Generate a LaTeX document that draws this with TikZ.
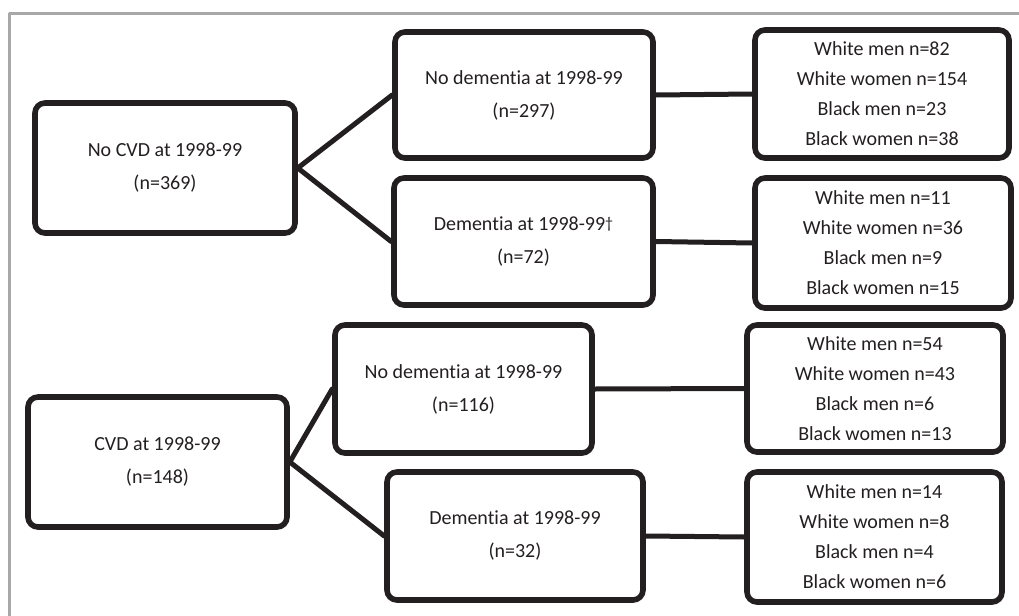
\documentclass[tikz,border=0pt]{standalone}
\usepackage{fontspec}
\setmainfont{Carlito}[RawFeature={-liga;-calt;-clig;-dlig}]
\definecolor{inkdark}{HTML}{231F20}
\definecolor{framegray}{HTML}{A8A8A8}
\tikzset{
  stagebox/.style={draw=inkdark,line width=2.8pt,rounded corners=5pt,align=center,text=inkdark,
    inner sep=0pt,font=\fontsize{10}{16.5}\selectfont},
  groupbox/.style={stagebox,font=\fontsize{10}{15}\selectfont},
  link/.style={draw=inkdark,line width=2.5pt}
}
\newcommand{\daggermark}{\raisebox{0.8pt}{\fontsize{8}{8}\selectfont\char"2020}}

\begin{document}
\begin{tikzpicture}[line cap=round,line join=round,x=0.5pt,y=-0.5pt]
				\useasboundingbox (0,0) rectangle (1019,616);
				\draw [line width=1.5pt,color=framegray,line cap=butt] (9,616) -- (9,13) -- (1019,13);
				% baseline status
				\node [stagebox,minimum width=130pt,minimum height=65pt] (nocvd) at (165,168) {No CVD at 1998-99\\(n=369)};
				\node [stagebox,minimum width=129.5pt,minimum height=65pt] (cvd) at (157.5,462) {CVD at 1998-99\\(n=148)};
				% dementia status
				\node [stagebox,minimum width=129pt,minimum height=63pt] (nocvdnodem) at (524,95) {No dementia at 1998-99\\(n=297)};
				\node [stagebox,minimum width=129.5pt,minimum height=63.5pt] (nocvddem) at (523.5,241.5) {Dementia at 1998-99\daggermark\\(n=72)};
				\node [stagebox,minimum width=128.5pt,minimum height=64pt] (cvdnodem) at (463.5,389) {No dementia at 1998-99\\(n=116)};
				\node [stagebox,minimum width=128pt,minimum height=64pt] (cvddem) at (515,536) {Dementia at 1998-99\\(n=32)};
				% race and sex
				\node [groupbox,minimum width=127pt,minimum height=64pt] (grpa) at (882,94) {White men n=82\\White women n=154\\Black men n=23\\Black women n=38};
				\node [groupbox,minimum width=128pt,minimum height=65pt] (grpb) at (883,243) {White men n=11\\White women n=36\\Black men n=9\\Black women n=15};
				\node [groupbox,minimum width=128pt,minimum height=63.5pt] (grpc) at (875,388.5) {White men n=54\\White women n=43\\Black men n=6\\Black women n=13};
				\node [groupbox,minimum width=127.5pt,minimum height=65pt] (grpd) at (874.5,537) {White men n=14\\White women n=8\\Black men n=4\\Black women n=6};
				% links
				\draw [link] (nocvd.east) -- (nocvdnodem.west);
				\draw [link] (nocvd.east) -- (nocvddem.west);
				\draw [link] (cvd.east) -- (cvdnodem.west);
				\draw [link] (cvd.east) -- (cvddem.west);
				\draw [link] (nocvdnodem.east) -- (grpa.west);
				\draw [link] (nocvddem.east) -- (grpb.west);
				\draw [link] (cvdnodem.east) -- (grpc.west);
				\draw [link] (cvddem.east) -- (grpd.west);
			\end{tikzpicture}
\end{document}
